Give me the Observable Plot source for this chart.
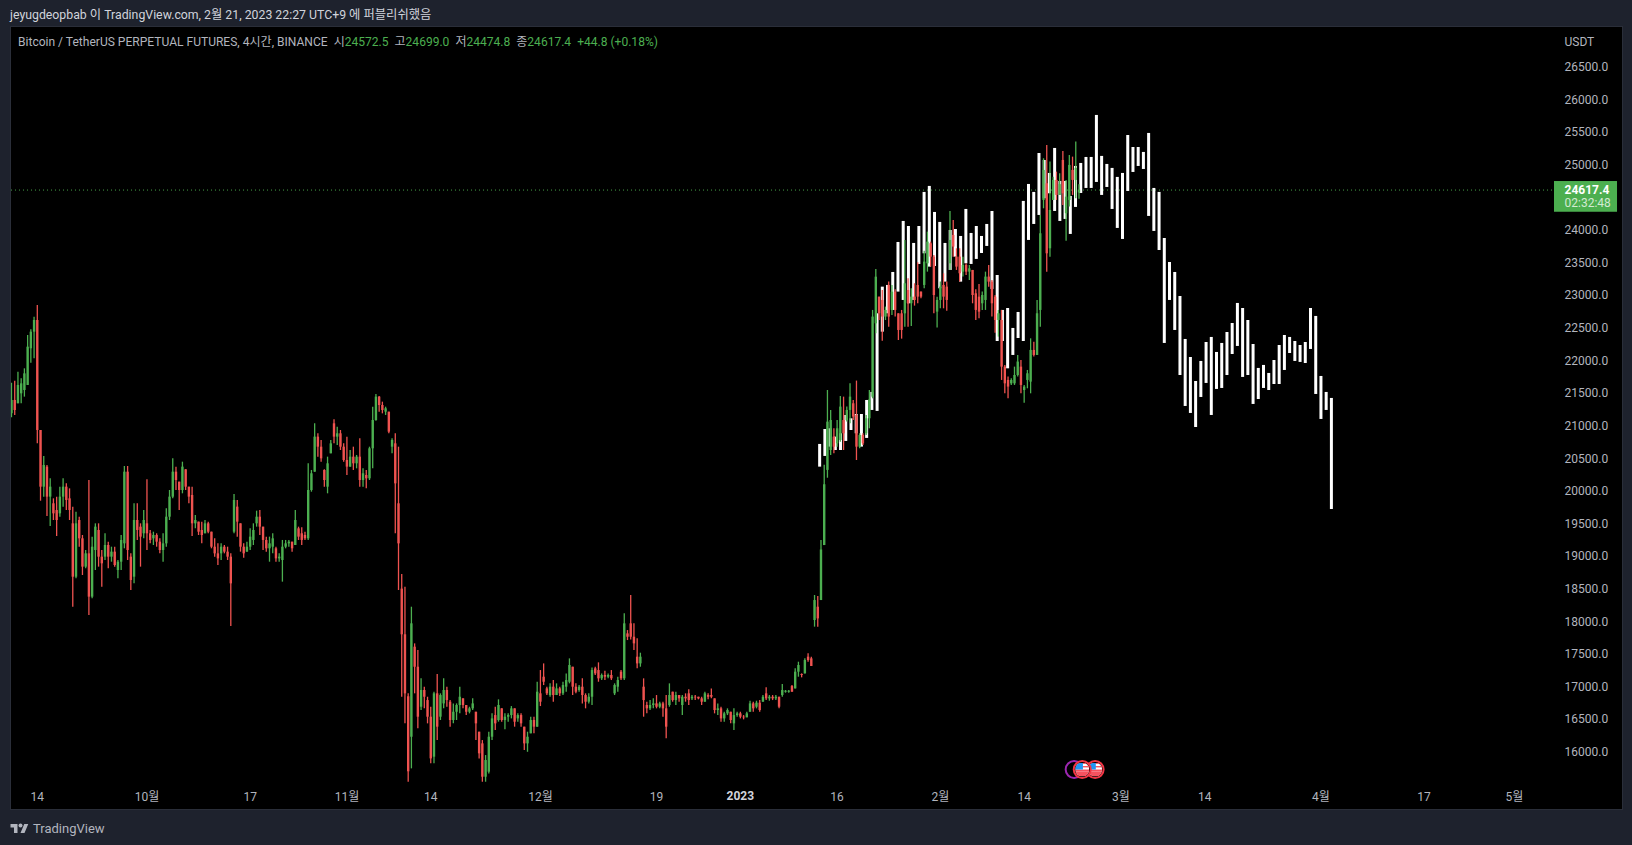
<!DOCTYPE html>
<html lang="ko">
<head>
<meta charset="utf-8">
<title>BTCUSDT 4h</title>
<script src="https://cdn.jsdelivr.net/npm/d3@7"></script>
<script src="https://cdn.jsdelivr.net/npm/@observablehq/plot@0.6"></script>
<style>
  html,body{margin:0;padding:0;background:#1e222d;width:1632px;height:845px;overflow:hidden;
    font-family:Roboto,"Noto Sans CJK KR",sans-serif;color:#b2b5be;}
  #head{position:absolute;left:10px;top:6px;font-size:12.3px;line-height:18px;color:#d1d4dc;white-space:pre;}
  #chart{position:absolute;left:11px;top:27px;width:1611px;height:782px;outline:1px solid #2a2e39;}
  #legend{position:absolute;left:18px;top:34px;font-size:12.05px;line-height:16px;white-space:pre;color:#b2b5be;}
  #legend b{font-weight:400;color:#4caf50;}
  #foot{position:absolute;left:10px;top:819px;height:18px;display:flex;align-items:center;font-size:13px;color:#b2b5be;}
  #foot svg{margin-right:4px;}
</style>
</head>
<body>
<div id="head">jeyugdeopbab 이 TradingView.com, 2월 21, 2023 22:27 UTC+9 에 퍼블리쉬했음</div>
<div id="chart"></div>
<div id="legend">Bitcoin / TetherUS PERPETUAL FUTURES, 4시간, BINANCE  시<b>24572.5</b>  고<b>24699.0</b>  저<b>24474.8</b>  종<b>24617.4</b>  <b>+44.8 (+0.18%)</b></div>
<div id="foot"><svg width="19" height="11" viewBox="0 2 36 22" fill="#b2b5be"><path d="M14 22H7V11H0V4h14v18zM28 22h-8l7.5-18h8L28 22z"/><circle cx="20" cy="7" r="4"/></svg>TradingView</div>
<script>
// Candles, one per 12 hours (USDT)
const high = [
21657,21688,21826,21724,21877,22388,22475,22669,22848,20932,
20533,20395,20191,19884,19910,20063,20191,20114,20037,19757,
19680,19603,19322,19092,20165,19297,19501,19501,19092,19348,
19220,19143,19143,18939,19322,20380,20380,19041,19808,19808,
19501,19705,20176,19399,19373,19348,19271,19348,19731,20012,
20497,20370,20140,20446,20329,20063,20063,19629,19527,19527,
19552,19527,19373,19271,19194,19194,19169,19143,19041,19951,
19859,19501,19194,19220,19424,19501,19695,19705,19450,19297,
19297,19348,19143,19041,19246,19246,19246,19220,19705,19450,
19440,19373,20421,20319,21034,20881,20778,20329,20523,20778,
21095,20983,20932,20727,20830,20625,20676,20549,20804,20344,
20319,20676,21289,21484,21453,21366,21289,21213,20804,20881,
20676,18724,18530,16895,18223,17661,17559,17125,16997,16843,
16690,16920,17191,16895,17125,16997,16792,16741,16741,16997,
16818,16716,16690,16818,16613,16307,16179,15949,16307,16588,
16690,16803,16665,16588,16588,16700,16665,16588,16588,16384,
16307,16537,16537,17073,17252,17354,16997,17048,17099,17048,
16997,17073,17201,17431,17303,17048,17022,17125,16895,16895,
17293,17303,17370,17201,17242,17201,17252,17048,17150,17252,
18121,17865,18402,17968,17738,17518,17125,16767,16792,16818,
16869,16767,16767,16869,17048,16920,16920,16869,16869,16895,
16956,16869,16869,16843,16843,16920,16895,16971,16818,16741,
16690,16613,16665,16613,16665,16613,16613,16562,16613,16782,
16767,16782,16792,16869,16987,16869,16869,16869,16843,17037,
16946,16946,17022,17278,17380,17201,17431,17508,17457,18402,
18387,19245,20400,21545,21240,20958,21085,21453,21443,21290,
21648,21392,21689,20881,20881,21162,21545,22772,23400,22976,
23078,22823,23206,23155,23089,22720,22772,23845,23257,23104,
23181,23502,23053,23681,23972,23819,23615,22976,23206,23334,
23206,24289,24151,23717,23717,23589,23487,23462,23385,23089,
23170,23053,23359,23461,23232,23001,22772,22772,21928,21750,
21724,21903,22082,22005,21622,21852,22337,22286,22925,24228,
25097,25301,25046,24815,24892,24867,25209,24765,25148,25122,
25352,24699];
const low = [
21126,21162,21341,21341,21443,21622,21964,22030,20727,19848,
19910,19613,19460,19552,19307,19603,19757,19705,19552,18224,
18658,19143,18709,18811,18096,18351,18786,18837,18530,18939,
18811,18913,18837,18658,18786,19118,18939,18479,18581,19246,
18837,19271,19092,19194,19169,19143,19041,18913,19143,19552,
19884,20012,19705,19961,20012,19808,19307,19424,19322,19194,
19348,19348,19118,18990,18862,18939,19041,18939,17927,19348,
19297,19067,18975,19067,19092,19169,19450,19322,19092,19067,
18913,19041,18913,18913,18607,19118,19143,19067,19169,19246,
19169,19246,19246,19986,20293,20523,20446,20063,19961,20574,
20727,20702,20625,20446,20242,20370,20319,20344,20063,20063,
20037,20165,20344,21075,21213,21187,21162,20881,20574,19348,
18479,16843,16435,15540,15745,16895,16358,16639,16665,16435,
15822,15822,16179,16486,16665,16690,16384,16435,16486,16588,
16665,16562,16588,16639,16179,15898,15540,15540,15668,16179,
16332,16461,16461,16343,16461,16511,16384,16461,16384,16026,
15999,16282,16282,16384,16700,17022,16869,16843,16767,16869,
16854,16869,16920,17048,16869,16895,16920,16741,16665,16741,
16716,17176,17073,17099,17099,17125,17099,16869,16920,17099,
17099,17712,17722,17559,17278,17303,16537,16588,16639,16665,
16665,16665,16537,16205,16690,16767,16716,16767,16562,16767,
16716,16792,16792,16803,16716,16767,16803,16818,16588,16562,
16461,16461,16562,16435,16332,16537,16511,16496,16527,16613,
16613,16665,16613,16767,16792,16782,16792,16792,16665,16843,
16905,16905,16920,16971,17150,17140,17201,17380,17314,17917,
17917,18325,19168,20200,20549,20574,20676,20753,20625,21060,
21034,21085,20472,20651,20702,20855,20958,21417,22414,22618,
22301,22618,22516,22695,22670,22311,22332,22516,22516,22526,
22838,22874,22950,23104,23359,23436,22721,22501,22797,22797,
22761,23385,23589,23385,23206,23283,23308,23232,22874,22618,
22644,22772,22772,23129,22670,22424,22363,21699,21494,21417,
21622,21622,21750,21494,21351,21571,21494,22057,22082,22516,
24330,23359,23589,24458,24458,24535,24381,23834,24356,24535,
24484,24474.8];
const open = [
21187,21392,21341,21494,21545,21622,22184,22439,22618,20932,
20063,20370,19910,19808,19705,19654,19910,20063,19884,19501,
18683,19552,19271,18837,19041,18377,19092,19399,18990,18990,
19169,18990,19067,18786,18913,19194,20293,18990,18683,19552,
19450,19348,19501,19348,19271,19322,19220,19092,19194,19603,
19910,20293,20140,20012,20329,20063,19935,19501,19527,19399,
19348,19501,19373,19143,19041,19041,19143,19067,18990,19373,
19757,19501,19143,19067,19143,19246,19501,19603,19450,19246,
19118,19143,19118,18964,18939,19143,19194,19220,19169,19424,
19348,19322,19271,20012,20293,20830,20676,20319,20063,20574,
21034,20830,20881,20676,20472,20370,20523,20421,20523,20165,
20242,20191,20651,21085,21443,21315,21213,21213,20676,20727,
19808,18500,17800,16850,16230,17610,17303,16690,16946,16792,
16537,15924,16895,16537,16741,16946,16767,16486,16613,16716,
16818,16716,16613,16665,16613,16307,16128,15617,15694,16230,
16562,16486,16665,16486,16537,16562,16665,16511,16562,16384,
16128,16282,16486,16384,16895,17150,16971,16869,16997,16869,
16971,16895,16997,17073,17303,16997,16946,16997,16869,16767,
16843,17278,17252,17125,17176,17150,17176,16895,16997,17227,
17125,17814,17968,17763,17457,17354,16997,16716,16665,16716,
16741,16690,16741,16665,16716,16920,16792,16869,16716,16843,
16895,16818,16843,16843,16818,16767,16869,16869,16818,16639,
16665,16511,16588,16613,16435,16562,16588,16537,16527,16613,
16741,16690,16752,16767,16895,16818,16843,16818,16843,16869,
16920,16920,17007,16971,17227,17191,17201,17457,17431,18019,
18223,18325,19168,20320,20625,20830,20727,20779,21085,21085,
21239,21341,21162,20676,20855,20881,21111,21443,22567,22976,
22925,22670,23155,22772,23052,22720,22720,22720,23078,22874,
22976,23155,23053,23155,23487,23794,23589,22746,22925,23155,
23129,23487,23922,23589,23589,23359,23462,23359,23385,23027,
22976,22874,22925,23283,23206,22976,22618,22618,21903,21699,
21647,21647,21775,21903,21545,21699,21673,22159,22082,22772,
24458,24714,23717,24458,24765,24535,25071,24254,24458,24918,
24765,24572.5];
const close = [
21392,21238,21622,21647,21800,22209,22439,22618,20932,20063,
20395,19910,20063,19654,19552,19910,20063,19859,19705,18683,
19501,19271,18837,19041,18377,19143,19450,18990,18888,19169,
18990,19067,18862,18913,19246,20293,19092,18632,19552,19399,
19297,19552,19348,19246,19322,19220,19092,19194,19603,19910,
20293,20165,20012,20370,20063,19910,19501,19552,19373,19322,
19501,19373,19143,19041,18964,19143,19067,18990,18581,19859,
19527,19143,19041,19143,19297,19399,19603,19450,19246,19118,
19194,19271,18964,18990,19143,19194,19220,19118,19552,19297,
19246,19271,20012,20268,20830,20676,20497,20165,20421,20727,
20830,20881,20676,20472,20370,20523,20421,20523,20165,20268,
20191,20651,21085,21443,21315,21238,21264,20906,20778,20114,
19194,17800,16895,15700,17968,17303,16537,16946,16843,16537,
15898,16895,16384,16869,16946,16792,16486,16613,16716,16843,
16716,16613,16665,16741,16435,15975,15617,15873,16230,16511,
16435,16716,16486,16537,16562,16665,16460,16562,16435,16128,
16230,16486,16384,16920,16767,17073,16895,16997,16869,16971,
16895,17022,17099,17329,16997,16920,16997,16869,16767,16843,
17252,17201,17125,17176,17150,17176,17125,17022,17099,17125,
17968,17763,17763,17661,17354,17457,16792,16665,16716,16741,
16690,16741,16665,16384,16869,16792,16869,16818,16843,16818,
16792,16843,16833,16818,16767,16895,16843,16843,16639,16665,
16511,16588,16639,16486,16562,16588,16537,16527,16588,16741,
16665,16752,16639,16843,16818,16843,16818,16843,16690,16946,
16935,16935,16920,17227,17329,17176,17406,17406,17314,18325,
18044,19100,20100,21060,21085,20676,20958,21290,20881,21239,
21443,21137,20676,20855,20727,21111,21400,22670,23282,22721,
22670,22772,22670,23052,22772,22465,22465,23181,22874,22976,
22925,22976,22976,23513,23819,23589,23001,22925,23129,22976,
22925,23845,23743,23436,23334,23462,23359,23410,23001,22772,
22746,23001,23283,23206,22874,22618,22721,21903,21647,21597,
21699,21775,21980,21622,21597,21801,22159,22082,22721,23947,
24918,23640,24305,24765,24535,24700,24560,24509,24995,24765,
24950,24617.4];

// White projected bars drawn over the chart: top and bottom of each
const projTop = [
20718,20947,20958,20830,20881,21162,21111,21177,21177,21392,
21515,22721,23129,23155,23354,23814,24136,24059,23799,24059,
24581,24673,24274,24121,23799,23998,24013,23906,24320,23952,
24059,23906,24090,24289,23308,22772,22802,22496,22741,24443,
24703,24581,25178,25071,24872,25255,24749,24749,24519,24979,
25025,25117,25117,25761,25133,25010,24949,24811,24872,25454,
25270,25270,25194,25485,24642,24581,23875,23507,23354,22986,
22327,22051,21683,21990,22281,22358,22128,22266,22434,22572,
22879,22802,22618,22250,21883,21929,21806,22005,22235,22388,
22358,22296,22235,22281,22802,22680,21760,21515,21423];
const projBottom = [
20370,20534,20677,20625,20625,20764,20932,20881,20677,20810,
21239,21224,22439,22721,22772,23053,22925,22874,22925,23477,
23640,23436,23446,23104,23206,23385,23589,23206,23487,23477,
23554,23645,23753,23094,22296,22296,21877,22082,22342,22296,
23845,24090,24228,24484,24560,24289,24136,24167,23937,24351,
24565,24642,24642,24734,24535,24657,24320,24029,23860,24596,
24887,24979,24933,24213,23983,23691,22266,22925,22465,21775,
21300,21193,20978,21438,21653,21162,21561,21576,21775,22097,
22220,21745,21775,21331,21407,21576,21545,21637,21637,21852,
22112,21990,21975,21959,22174,21484,21101,21239,19721];

const priceTicks = [16000,16500,17000,17500,18000,18500,19000,19500,20000,20500,21000,21500,22000,22500,23000,23500,24000,25000,25500,26000,26500];
const timeTicks = ["2022-09-14","2022-10-01","2022-10-17","2022-11-01","2022-11-14","2022-12-01","2022-12-19","2023-01-16","2023-02-01","2023-02-14","2023-03-01","2023-03-14","2023-04-01","2023-04-17","2023-05-01"];
const timeLabels = ["14","10월","17","11월","14","12월","19","16","2월","14","3월","14","4월","17","5월"];
const yearTick = "2023-01-01";
const yearLabel = "2023";
const lastPrice = 24617.4;
const countdown = "02:32:48";
const events = [
  {date:"2023-02-21T18:00Z", ring:"#9c27b0", flag:false},
  {date:"2023-02-25T00:00Z", ring:"#f23645", flag:true},
  {date:"2023-02-23T00:00Z", ring:"#f23645", flag:true}
];

const H = 3600e3;
const start = Date.UTC(2022,8,10);
const xEnd = new Date("2023-05-07T05:17Z");
const candles = high.map((h,i) => ({
  t:new Date(start + i*12*H), high:h, low:low[i], open:open[i], close:close[i],
  color: close[i] >= open[i] ? "#4caf50" : "#ef5350"
}));
const projStart = Date.UTC(2023,0,13,7);
const proj = projTop.map((t,i) => ({t:new Date(projStart + i*19.43*H), top:t, bottom:projBottom[i]}));
const tickDates = timeTicks.map(d => new Date(d));
const labelOf = new Map(tickDates.map((d,i) => [+d, timeLabels[i]]));
const eventRows = events.map(e => ({...e, t:new Date(e.date), p:15735}));
const flagSrc = "data:image/svg+xml," + encodeURIComponent('<svg xmlns="http://www.w3.org/2000/svg" width="20" height="20"><rect width="20" height="20" fill="#fff"/><rect y="10" width="20" height="3" fill="#f7525f"/><rect y="13" width="20" height="7" fill="#f7525f"/><rect y="0" width="20" height="2" fill="#f7525f"/><rect y="5" x="10" width="10" height="2" fill="#f7525f"/><rect width="11" height="10" fill="#2196f3"/></svg>');
const badgeEnd = new Date(+xEnd + 9.77*24*H);

const plot = Plot.plot({
  width:1611, height:782,
  marginTop:0, marginBottom:24, marginLeft:0, marginRight:68,
  style:{background:"#000", color:"#b2b5be", fontFamily:'Roboto,"Noto Sans CJK KR",sans-serif', fontSize:"12px"},
  x:{type:"utc", domain:[new Date(start), xEnd]},
  y:{domain:[15490,27109]},
  color:{type:"identity"},
  marks:[
    Plot.ruleY([lastPrice],{stroke:"#4caf50",strokeDasharray:"1,3",strokeOpacity:.9}),
    Plot.ruleX(proj,{x:"t",y1:"bottom",y2:"top",stroke:"#fff",strokeWidth:3}),
    Plot.ruleX(candles,{x:"t",y1:"low",y2:"high",stroke:"color",strokeWidth:1.3}),
    Plot.ruleX(candles,{x:"t",y1:"open",y2:"close",stroke:"color",strokeWidth:2.4}),
    Plot.axisY({anchor:"right",ticks:priceTicks,tickFormat:d=>d.toFixed(1),tickSize:0,tickPadding:10,label:null,fill:"#b2b5be"}),
    Plot.axisX({ticks:tickDates,tickFormat:d=>labelOf.get(+d),tickSize:0,tickPadding:7,label:null,fill:"#b2b5be"}),
    Plot.text([yearLabel],{x:()=>new Date(yearTick),y:()=>15330,fill:"#d1d4dc",fontWeight:700}),
    Plot.text(["USDT"],{x:()=>xEnd,y:()=>26885,dx:10,textAnchor:"start",fill:"#b2b5be"}),
    Plot.rect([0],{x1:()=>xEnd,x2:()=>badgeEnd,y1:()=>24277,y2:()=>24748,fill:"#4caf50"}),
    Plot.text(["24617.4"],{x:()=>xEnd,y:()=>lastPrice,dx:10,textAnchor:"start",fill:"#fff",fontWeight:700}),
    Plot.text([countdown],{x:()=>xEnd,y:()=>24411,dx:10,textAnchor:"start",fill:"#fff",fillOpacity:.75}),
    ...eventRows.flatMap(e => [
      Plot.dot([e],{x:"t",y:"p",r:8.5,fill:"#000",stroke:e.ring,strokeWidth:2}),
      ...(e.flag ? [Plot.image([e],{x:"t",y:"p",src:()=>flagSrc,width:14,height:14,r:7})] : [])
    ])
  ]
});
document.getElementById("chart").appendChild(plot);
</script>
</body>
</html>
